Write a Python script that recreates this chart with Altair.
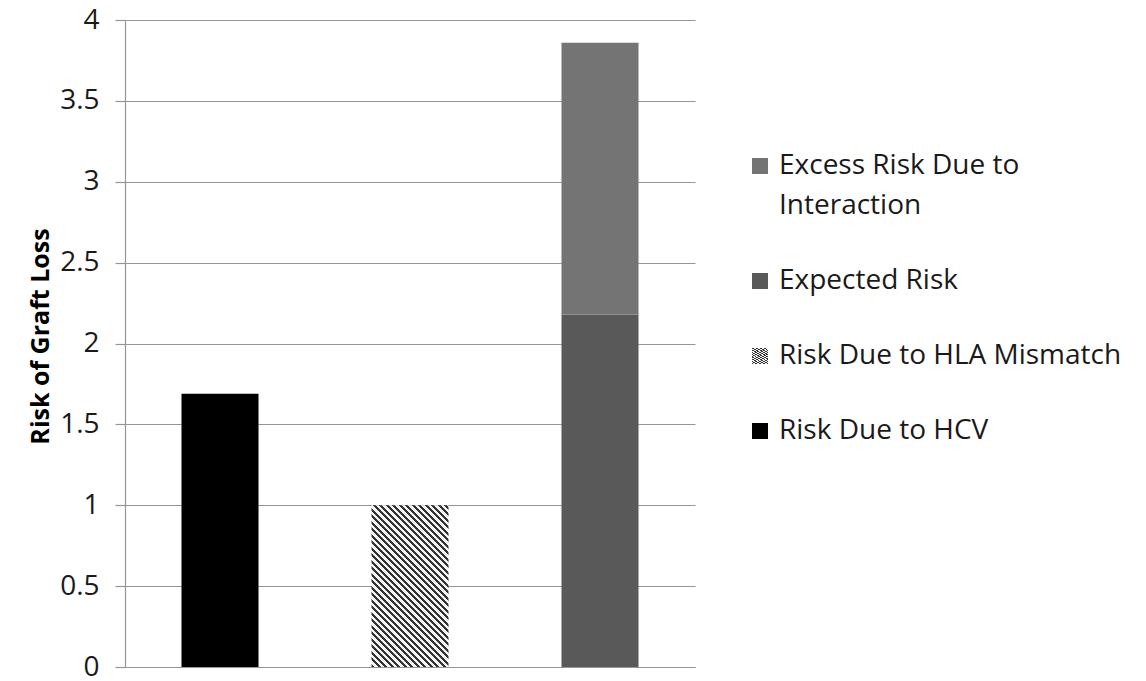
import math
import altair as alt
import pandas as pd

# ---------------- data ----------------
groups = ["HCV", "HLA Mismatch", "HCV + HLA Mismatch"]
legend_order = [
    "Excess Risk Due to Interaction",
    "Expected Risk",
    "Risk Due to HLA Mismatch",
    "Risk Due to HCV",
]
bar_group = ["HCV", "HLA Mismatch", "HCV + HLA Mismatch", "HCV + HLA Mismatch"]
bar_series = [
    "Risk Due to HCV",
    "Risk Due to HLA Mismatch",
    "Expected Risk",
    "Excess Risk Due to Interaction",
]
bar_value = [1.69, 1.00, 2.18, 1.68]
bar_stack = [0, 0, 0, 1]
y_ticks = [0, 0.5, 1, 1.5, 2, 2.5, 3, 3.5, 4]

df = pd.DataFrame(
    {"group": bar_group, "series": bar_series, "value": bar_value, "stack": bar_stack}
)

# ---------------- layout / style ----------------
W, H = 570, 647
BAR = 77
FONT = "Open Sans"
GRID = "#969696"


def stripe_gradient(w, h, period, dark, light):
    """Diagonal '\\' stripes at 45 deg inside a w x h box (bounding-box units)."""
    n = math.hypot(w, h)
    ux, uy = w / n, -h / n
    L = ux * 1 + uy * (-1)
    x2, y2 = L * ux, 1 + L * uy
    span = (w + h) / math.sqrt(2)
    k = span / period
    stops = []
    j = 0
    while j / k < 1:
        a = j / k
        b = min((j + 0.5) / k, 1)
        c = min((j + 1) / k, 1)
        stops += [(a, dark), (b, dark), (b, light), (c, light)]
        j += 1
    st = ",".join("{offset:%.5f,color:'%s'}" % (o, col) for o, col in stops)
    return "{gradient:'linear',x1:0,y1:1,x2:%.5f,y2:%.5f,stops:[%s]}" % (x2, y2, st)


hla_h = bar_value[1] * H / 4
hla_fill = stripe_gradient(BAR, hla_h, 4.6, "#333333", "#f4f4f4")

color_range = ["#747474", "#595959", {"expr": hla_fill}, "#000000"]

label_expr = (
    "datum.label == 'Excess Risk Due to Interaction' ? "
    "['Excess Risk Due to', 'Interaction'] : datum.label"
)

chart = (
    alt.Chart(df)
    .mark_bar(size=BAR)
    .encode(
        x=alt.X(
            "group:N",
            sort=groups,
            scale=alt.Scale(paddingInner=0, paddingOuter=0),
            axis=alt.Axis(
                title=None,
                labels=False,
                ticks=False,
                domainColor=GRID,
                domainWidth=1.2,
            ),
        ),
        y=alt.Y(
            "value:Q",
            stack="zero",
            scale=alt.Scale(domain=[0, 4], nice=False),
            axis=alt.Axis(
                values=y_ticks,
                format="~g",
                title="Risk of Graft Loss",
                titleFont=FONT,
                titleFontSize=25,
                titleFontWeight="bold",
                titleColor="#000000",
                titleAngle=-90,
                titleBaseline="middle",
                titleX=-85,
                titleY=316,
                labelFont=FONT,
                labelFontSize=28,
                labelColor="#1a1a1a",
                labelPadding=16,
                tickSize=10,
                tickColor=GRID,
                tickWidth=1.2,
                domainColor=GRID,
                domainWidth=1.2,
                gridColor=GRID,
                gridWidth=1.2,
            ),
        ),
        color=alt.Color(
            "series:N",
            scale=alt.Scale(domain=legend_order, range=color_range),
            legend=alt.Legend(
                title=None,
                orient="none",
                legendX=621,
                legendY=132,
                symbolType="square",
                symbolSize=256,
                symbolStrokeWidth=0,
                labelFont=FONT,
                labelFontSize=28,
                labelColor="#1a1a1a",
                labelLimit=420,
                labelOffset=5,
                rowPadding=47,
                labelExpr=label_expr,
            ),
        ),
        order=alt.Order("stack:Q"),
    )
    .properties(
        width=W,
        height=H,
        autosize=alt.AutoSizeParams(type="none"),
        padding={"left": 125, "top": 20, "right": 451, "bottom": 14},
    )
    .configure(background="#ffffff", style={"guide-label": {"lineHeight": 40}})
    .configure_view(stroke=None)
    .configure_axis(grid=True)
    .configure_axisX(grid=False)
)

chart.save("out.html", embed_options={"renderer": "svg", "actions": False})
